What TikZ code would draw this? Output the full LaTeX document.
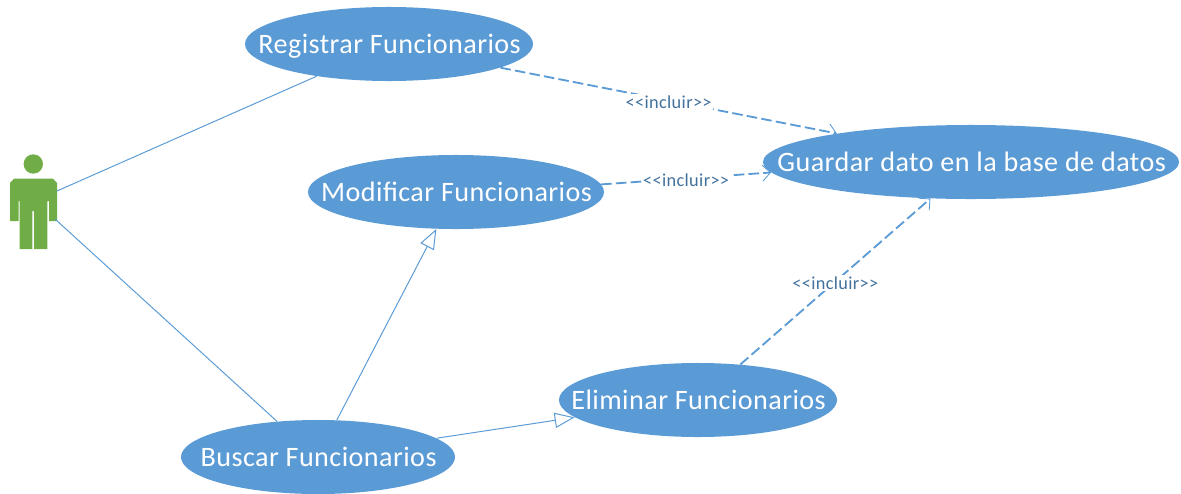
\documentclass[tikz,border=0pt]{standalone}
\usepackage{fontspec}
\setmainfont{Carlito}
\newfontfamily\ucfont[LetterSpace=1.6]{Carlito}
\newfontfamily\lblfont[LetterSpace=2]{Carlito}
\usetikzlibrary{arrows.meta,shapes.geometric}
\definecolor{ucblue}{HTML}{5B9BD5}
\definecolor{uclabel}{HTML}{41719C}
\definecolor{ucgreen}{HTML}{70AD47}
\newcommand{\uctext}[1]{\makebox[0pt]{\hspace{0.03cm}\smash{\raisebox{-0.24cm}{#1}}}}
\tikzset{
	usecase/.style={ellipse, fill=ucblue, text=white, inner sep=0pt, minimum height=1.85cm, font=\ucfont\fontsize{20}{22}\selectfont},
	assoc/.style={ucblue, line width=0.7pt},
	inherit/.style={assoc, -{Triangle[open, length=0.5cm, width=0.38cm, fill=white]}},
	incl/.style={ucblue, line width=1.3pt, dash pattern=on 7.5pt off 3pt, -{Straight Barb[length=0.2cm, width=0.4cm, line width=0.6pt]}},
	incllabel/.style={fill=white, text=uclabel, inner sep=1pt, yshift=-0.04cm, font=\lblfont\fontsize{13}{15}\selectfont}
}
\begin{document}
\begin{tikzpicture}[x=0.025cm, y=-0.025cm]
	\useasboundingbox (0,0) rectangle (1181,493);

	% actor
	\fill[ucgreen] (33.3,164) circle[radius=0.242cm];
	\fill[ucgreen] (10,221) -- (10,183) -- (14,178.7) -- (53,178.7) -- (57,183) -- (57,221) -- (49,221) -- (49,201) -- (47.3,201) -- (47.3,249) -- (34,249) -- (34,211) -- (32.4,211) -- (32.4,249) -- (19.5,249) -- (19.5,201) -- (18.5,201) -- (18.5,221) -- cycle;
	\coordinate (actorTop) at (57,191);
	\coordinate (actorBottom) at (55,219);

	% use cases
	\node[usecase, minimum width=7.2cm] (registrar) at (389,44) {\uctext{Registrar Funcionarios}};
	\node[usecase, minimum width=7.4cm] (modificar) at (456,192) {\uctext{Modificar Funcionarios}};
	\node[usecase, minimum width=10.4cm] (guardar) at (971,162) {\uctext{Guardar dato en la base de datos}};
	\node[usecase, minimum width=6.95cm] (eliminar) at (698,400) {\uctext{Eliminar Funcionarios}};
	\node[usecase, minimum width=6.85cm] (buscar) at (318,457) {\uctext{Buscar Funcionarios}};

	% actor lines
	\draw[assoc] (actorTop) -- (registrar.204);
	\draw[assoc] (actorBottom) -- (buscar.139);

	% generalization
	\draw[inherit] (buscar.63) -- (modificar.242);
	\draw[inherit] (buscar.9) -- (eliminar.188);

	% include
	\draw[incl] (registrar.-12) -- node[incllabel] (inclA) {<{}<incluir>{}>} (guardar.168.5);
	\draw[incl] (modificar.3.2) -- node[incllabel] (inclB) {<{}<incluir>{}>} (guardar.183.5);
	\draw[incl] (eliminar.40.6) -- node[incllabel] (inclC) {<{}<incluir>{}>} (guardar.222);
\end{tikzpicture}
\end{document}
